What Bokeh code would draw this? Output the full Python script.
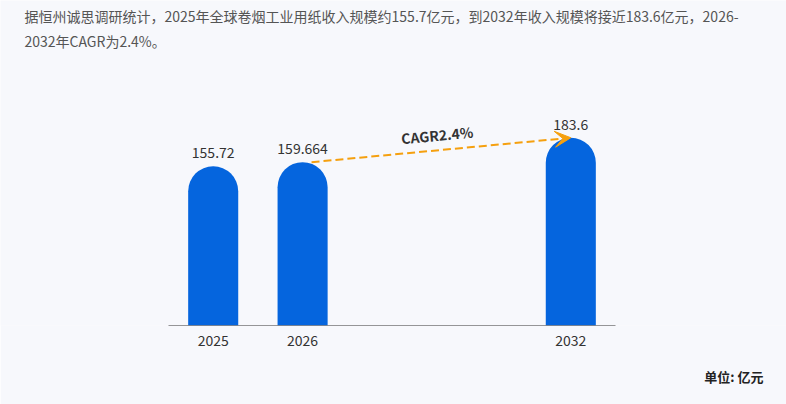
import math
from bokeh.plotting import figure
from bokeh.models import (ColumnDataSource, Range1d, FixedTicker, Label, LabelSet,
                          Arrow, VeeHead, Title)
from bokeh.core.properties import value
from bokeh.embed import file_html
from bokeh.resources import INLINE

# ---- data ----
axis_slots = ["2025", "2026", "", "", "2032"]
years = ["2025", "2026", "2032"]
values = [155.72, 159.664, 183.6]
value_labels = ["155.72", "159.664", "183.6"]
cagr_text = "CAGR2.4%"
title_line1 = "据恒州诚思调研统计，2025年全球卷烟工业用纸收入规模约155.7亿元，到2032年收入规模将接近183.6亿元，2026-"
title_line2 = "2032年CAGR为2.4%。"
unit_text = "单位: 亿元"

FONT = "Noto Sans CJK SC"
BG = "#f7f8fc"
BAR = "#0565de"
ORANGE = "#f5a00f"

W, H = 786, 404
AX_L, AX_R, AX_Y = 168, 615, 325          # pixel extent of the category axis
SLOT = (AX_R - AX_L) / len(axis_slots)     # pixels per category slot
PX_PER_UNIT = 1.0227                       # pixels per value unit

XMIN = -0.5 - AX_L / SLOT
XMAX = len(axis_slots) - 0.5 + (W - AX_R) / SLOT
YMIN, YMAX = 0, AX_Y / PX_PER_UNIT

xpos = [axis_slots.index(y) for y in years]
src = ColumnDataSource(dict(x=xpos, top=values, label=value_labels))

p = figure(width=W, height=H, output_backend="svg", toolbar_location=None,
           title_location=None,
           x_range=Range1d(XMIN, XMAX), y_range=Range1d(YMIN, YMAX),
           min_border_left=0, min_border_right=0, min_border_top=0,
           min_border_bottom=H - AX_Y)
p.background_fill_color = BG
p.border_fill_color = BG
p.outline_line_color = None
p.grid.visible = False
p.yaxis.visible = False

p.vbar(x="x", top="top", bottom=0, width=0.56, source=src, fill_color=BAR,
       line_color=None, border_radius=(25, 25, 0, 0))

# axis baseline spanning only the category slots
p.segment(x0=[-0.5], y0=[0], x1=[len(axis_slots) - 0.5], y1=[0],
          line_color="#333333", line_width=1)

ax = p.xaxis[0]
ax.ticker = FixedTicker(ticks=xpos)
ax.major_label_overrides = {i: s for i, s in zip(xpos, years)}
ax.axis_line_color = None
ax.major_tick_line_color = None
ax.minor_tick_line_color = None
ax.major_label_text_font = FONT
ax.major_label_text_font_size = "14px"
ax.major_label_text_color = "#333333"
ax.major_label_standoff = 3

p.add_layout(LabelSet(x="x", y="top", text="label", source=src, text_align="center",
                      text_baseline="bottom", y_offset=8, text_font=value(FONT),
                      text_font_size=value("14px"), text_color="#333333"))

p.add_layout(Arrow(x_start=xpos[1] + 0.1, y_start=values[1], x_end=xpos[2], y_end=values[2],
                   line_color=ORANGE, line_width=2, line_dash="8 4",
                   end=VeeHead(size=16, fill_color=ORANGE, fill_alpha=1.0,
                               line_color=ORANGE, line_width=1)))

ang = math.atan2((values[2] - values[1]) * PX_PER_UNIT,
                 (xpos[2] - xpos[1] - 0.1) * SLOT)
p.add_layout(Label(x=(xpos[1] + 0.1 + xpos[2]) / 2, y=(values[1] + values[2]) / 2,
                   text=cagr_text, angle=ang, text_align="center", text_baseline="middle",
                   x_offset=-4, y_offset=15, text_font=FONT, text_font_size="14px",
                   text_font_style="bold", text_color="#333333"))

# header lines (screen units from the frame's bottom-left corner)
p.add_layout(Label(x=24, y=AX_Y - 15, x_units="screen", y_units="screen",
                   text=title_line1, text_font=FONT, text_font_size="14px",
                   text_color="#555555", text_baseline="middle"))
p.add_layout(Label(x=24, y=AX_Y - 40, x_units="screen", y_units="screen",
                   text=title_line2, text_font=FONT, text_font_size="14px",
                   text_color="#555555", text_baseline="middle"))

# unit note below the axis
p.add_layout(Title(text=unit_text, align="right", offset=23, standoff=33,
                   vertical_align="bottom",
                   text_font=FONT, text_font_size="13px", text_font_style="bold",
                   text_color="#222222"), "below")

open("out.html", "w").write(file_html(p, INLINE))
